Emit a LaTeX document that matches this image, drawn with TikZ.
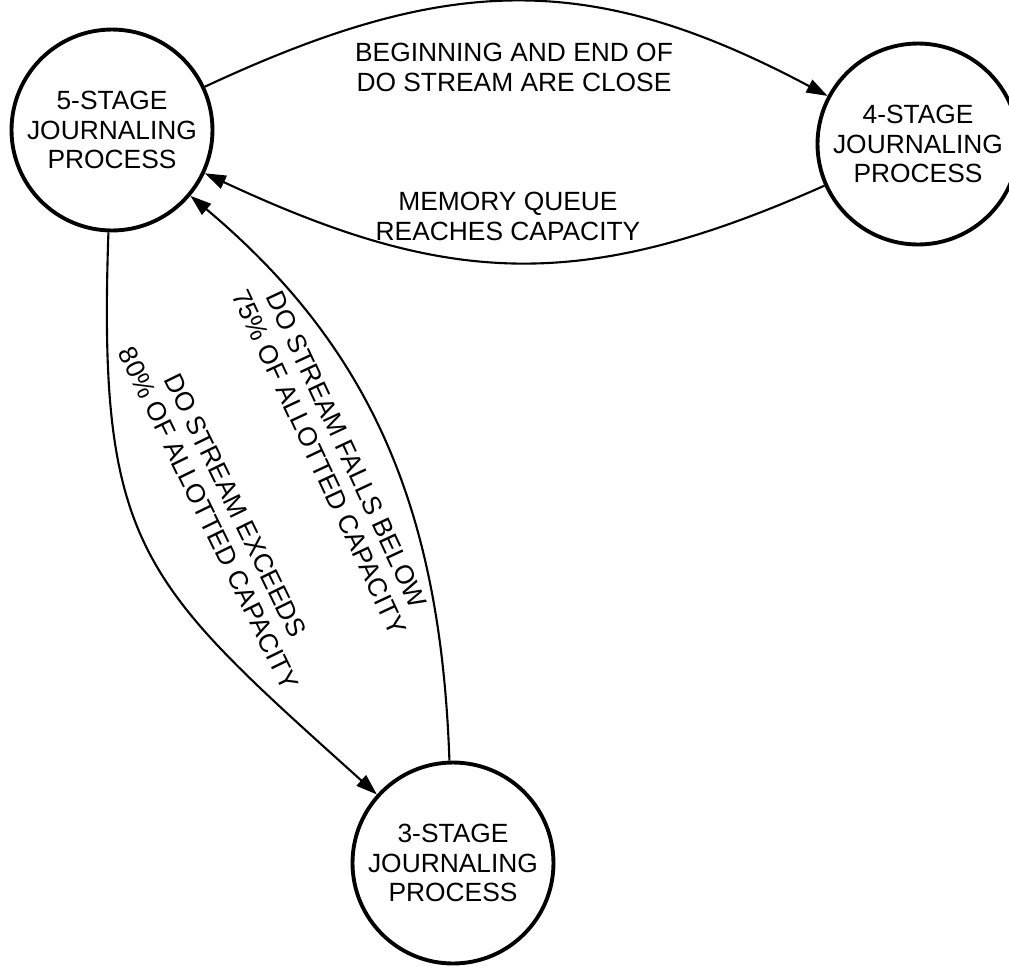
\documentclass[tikz,border=0pt]{standalone}
\usepackage{fontspec}
\setmainfont{Liberation Sans}
\usetikzlibrary{arrows.meta}

\begin{document}
\begin{tikzpicture}[x=0.02cm,y=-0.02cm,
  stage/.style={draw,circle,line width=2.2pt,minimum size=4.02cm,inner sep=0pt,align=center,font=\fontsize{15}{17}\selectfont},
  conn/.style={line width=1.2pt,-{Triangle[length=12pt,width=8pt]}},
  lab/.style={align=center,font=\fontsize{15}{17}\selectfont}]
\useasboundingbox (0,0) rectangle (1009,965);
\node[stage] (p5) at (112,130) {5-STAGE\\JOURNALING\\PROCESS};
\node[stage] (p4) at (918,144) {4-STAGE\\JOURNALING\\PROCESS};
\node[stage] (p3) at (453,863) {3-STAGE\\JOURNALING\\PROCESS};
\draw[conn] (p5) to[out=25,in=152,looseness=1.1] (p4);
\draw[conn] (p4) to[out=204,in=335,looseness=1.1] (p5);
\draw[conn] (p3) to[out=92,in=320] (p5);
\draw[conn] (p5) to[out=268,in=138,looseness=1.3] (p3);
\node[lab] (close) at (514,67) {BEGINNING AND END OF\\DO STREAM ARE CLOSE};
\node[lab] (full) at (508,216) {MEMORY QUEUE\\REACHES CAPACITY};
\node[lab,rotate=-65] (below) at (333,456) {DO STREAM FALLS BELOW\\75\% OF ALLOTTED CAPACITY};
\node[lab,rotate=-64] (above) at (222,512) {DO STREAM EXCEEDS\\80\% OF ALLOTTED CAPACITY};
\end{tikzpicture}
\end{document}
